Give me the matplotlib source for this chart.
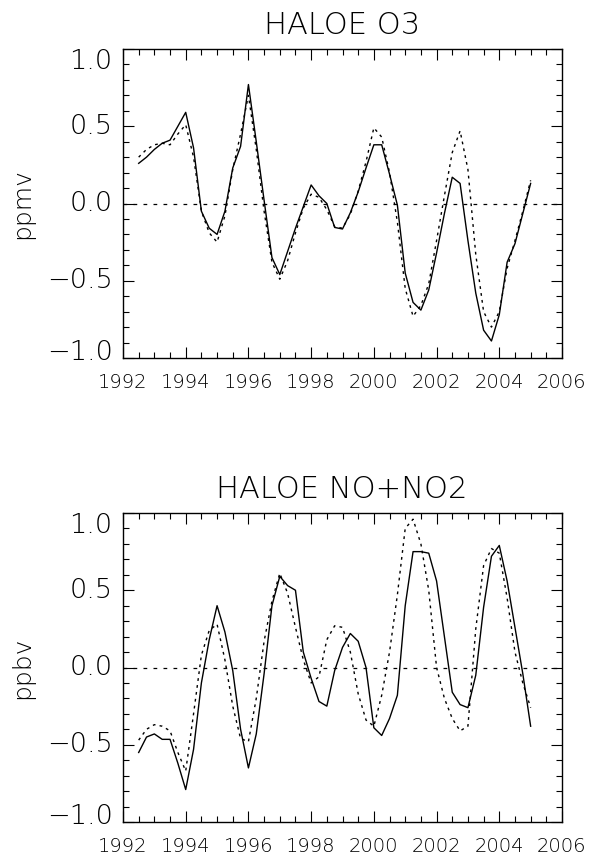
import numpy as np
import matplotlib
matplotlib.use("Agg")
import matplotlib.pyplot as plt
import matplotlib.transforms as mtransforms
from matplotlib.ticker import MultipleLocator

# quarterly time grid of the HALOE anomalies
years = np.arange(1992.5, 2005.01, 0.25)

# O3 (ppmv): observed (solid) and fitted (dotted)
o3_obs = [0.26, 0.30, 0.35, 0.39, 0.41, 0.50, 0.59, 0.36, -0.05, -0.16,
          -0.20, -0.05, 0.23, 0.37, 0.77, 0.40, 0.02, -0.35, -0.46, -0.31,
          -0.16, -0.02, 0.12, 0.05, 0.00, -0.155, -0.165, -0.06, 0.075, 0.23,
          0.38, 0.38, 0.19, -0.01, -0.45, -0.64, -0.69, -0.56, -0.32, -0.065,
          0.17, 0.13, -0.24, -0.58, -0.82, -0.89, -0.72, -0.38, -0.26, -0.065,
          0.13]
o3_fit = [0.30, 0.35, 0.38, 0.39, 0.38, 0.45, 0.51, 0.30, -0.05, -0.19,
          -0.25, -0.08, 0.22, 0.45, 0.70, 0.35, -0.05, -0.38, -0.49, -0.37,
          -0.19, -0.03, 0.06, 0.04, -0.04, -0.15, -0.16, -0.07, 0.08, 0.27,
          0.49, 0.43, 0.20, -0.12, -0.55, -0.73, -0.66, -0.52, -0.24, 0.05,
          0.33, 0.47, 0.22, -0.33, -0.70, -0.80, -0.70, -0.42, -0.24, -0.05,
          0.15]

# NO+NO2 (ppbv)
nox_obs = [-0.55, -0.45, -0.43, -0.465, -0.465, -0.62, -0.79, -0.53, -0.10, 0.18,
           0.40, 0.23, -0.02, -0.40, -0.65, -0.43, -0.04, 0.40, 0.59, 0.53,
           0.50, 0.10, -0.07, -0.22, -0.25, -0.02, 0.13, 0.22, 0.17, 0.00,
           -0.39, -0.44, -0.33, -0.18, 0.40, 0.75, 0.75, 0.74, 0.56, 0.20,
           -0.16, -0.24, -0.26, -0.05, 0.39, 0.72, 0.79, 0.56, 0.26, -0.04,
           -0.38]
nox_fit = [-0.47, -0.40, -0.37, -0.38, -0.41, -0.55, -0.67, -0.30, 0.08, 0.24,
           0.28, 0.05, -0.25, -0.46, -0.48, -0.20, 0.17, 0.43, 0.61, 0.48,
           0.26, 0.05, -0.10, -0.06, 0.18, 0.27, 0.26, 0.10, -0.17, -0.34,
           -0.38, -0.18, 0.10, 0.47, 0.90, 0.96, 0.80, 0.50, 0.00, -0.20,
           -0.33, -0.41, -0.38, 0.25, 0.66, 0.77, 0.74, 0.45, 0.10, -0.10,
           -0.26]

titles = ["HALOE O3", "HALOE NO+NO2"]
units = ["ppmv", "ppbv"]
xticks = [1992, 1994, 1996, 1998, 2000, 2002, 2004, 2006]
yticks = [-1.0, -0.5, 0.0, 0.5, 1.0]
ytick_labels = ["\u22121.0", "\u22120.5", "0.0", "0.5", "1.0"]

plt.rcParams["font.family"] = ["DejaVu Sans"]
plt.rcParams["font.weight"] = "light"

W, H = 589, 856
fig = plt.figure(figsize=(W / 100, H / 100), dpi=100)

panels = [(o3_obs, o3_fit, 49), (nox_obs, nox_fit, 513)]
for k, (obs, fit, top) in enumerate(panels):
    ax = fig.add_axes([123 / W, 1 - (top + 309) / H, 439 / W, 309 / H])
    ax.plot(years, obs, color="black", lw=1.0)
    ax.plot(years, fit, color="black", lw=1.0, ls=(0, (2, 3)))
    ax.axhline(0, color="black", lw=0.9, ls=(0, (3, 5)))

    ax.set_xlim(1992, 2006)
    ax.set_ylim(-1, 1)
    ax.set_xticks(xticks)
    ax.set_xticklabels([str(t) for t in xticks])
    ax.xaxis.set_minor_locator(MultipleLocator(0.5))
    ax.set_yticks(yticks)
    ax.set_yticklabels([])
    ax.yaxis.set_minor_locator(MultipleLocator(0.1))
    ax.tick_params(which="both", direction="in", top=True, right=True, width=0.8)
    ax.tick_params(which="major", length=8)
    ax.tick_params(which="minor", length=4)
    ax.tick_params(axis="x", labelsize=14, pad=11)
    for sp in ax.spines.values():
        sp.set_linewidth(1.0)

    # y tick labels drawn by hand so the end labels sit inside the box
    base = mtransforms.blended_transform_factory(ax.transAxes, ax.transData)
    for v, lab in zip(yticks, ytick_labels):
        dy = 0
        if v == 1.0:
            dy = -9
        elif v == -1.0:
            dy = 4
        tr = mtransforms.offset_copy(base, fig=fig, x=-7.5, y=dy, units="points")
        ax.text(0, v, lab, transform=tr, ha="right", va="center", fontsize=19.5)

    fig.text(342 / W, 1 - (top - 24) / H, titles[k], ha="center", va="center",
             fontsize=22)
    fig.text(22 / W, 1 - (top + 154.5) / H, units[k], rotation=90,
             ha="center", va="center", fontsize=18)

fig.savefig("out.png", dpi=100)
